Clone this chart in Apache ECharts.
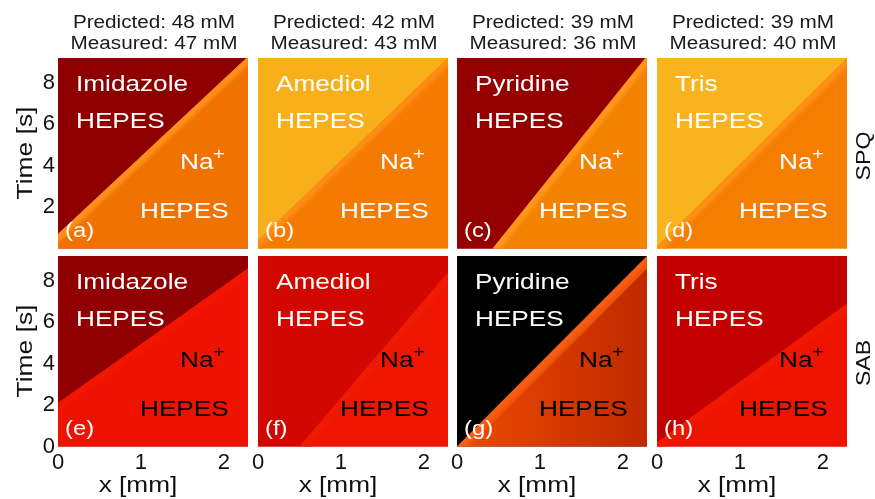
<!DOCTYPE html>
<html>
<head>
<meta charset="utf-8">
<script src="https://cdn.jsdelivr.net/npm/echarts@6/dist/echarts.min.js"></script>
<style>
  html, body { margin: 0; padding: 0; background: #ffffff; }
  #chart { width: 875px; height: 499px; }
</style>
</head>
<body>
<div id="chart"></div>
<script>
// Buffer pairs shown in each column and the concentrations quoted above them
const buffers = ['Imidazole', 'Amediol', 'Pyridine', 'Tris'];
const predictedMM = [48, 42, 39, 39];
const measuredMM = [47, 43, 36, 40];
const dyes = ['SPQ', 'SAB'];
const panelIds = ['(a)', '(b)', '(c)', '(d)', '(e)', '(f)', '(g)', '(h)'];

// Exchange front: time [s] at x = 0 and at the right edge of the channel, per panel
const frontX = [0, 2.29];
const frontStartT = [0.7, 0.4, -2.15, 0.1, 2.1, -2.35, 0.0, 0.2];
const frontEndT = [9.27, 9.2, 9.3, 9.2, 8.6, 8.4, 9.2, 6.9];

// Tick labels
const xTickLabels = [0, 1, 2];
const tTickLabels = [0, 2, 4, 6, 8];
const tMax = 9.2;

// Panel colours (hot colour map): region before the front, Na+ region after it,
// and the brighter band right behind the front
const upperColors = ['#8e0000', '#f7af1a', '#940000', '#f8b31f', '#910000', '#d20800', '#000000', '#c20000'];
const lowerColors = ['#f07200', '#f47a00', '#f28200', '#f57d00', '#f01200', '#ee1600', ['#ec4c00', '#c02800'], '#ef1400'];
const frontColors = ['#ff8e1c', '#ff8c14', '#ff961c', '#ff9016', '#f21600', '#f01a00', '#f65e14', '#f11800'];

const FONT = '"Liberation Sans", Arial, Helvetica, sans-serif';
const WIDE = 1.19; // horizontal stretch of the annotation lettering
const BAND = 9;    // width of the bright band behind the front, px
const colLeft = [58, 258, 457, 657];
const rowTop = [58, 256];
const panelW = 190, panelH = 190.5;

// Clip a polygon (pixel coordinates) to the plotting rectangle
function clipToRect(pts, r) {
  const cx = (a, b, x) => [x, a[1] + (x - a[0]) / (b[0] - a[0]) * (b[1] - a[1])];
  const cy = (a, b, y) => [a[0] + (y - a[1]) / (b[1] - a[1]) * (b[0] - a[0]), y];
  const edges = [
    [p => p[0] >= r.x, (a, b) => cx(a, b, r.x)],
    [p => p[0] <= r.x + r.width, (a, b) => cx(a, b, r.x + r.width)],
    [p => p[1] >= r.y, (a, b) => cy(a, b, r.y)],
    [p => p[1] <= r.y + r.height, (a, b) => cy(a, b, r.y + r.height)]
  ];
  let out = pts;
  for (const [inside, cut] of edges) {
    const src = out;
    out = [];
    for (let k = 0; k < src.length; k++) {
      const cur = src[k], prev = src[(k + src.length - 1) % src.length];
      if (inside(cur)) {
        if (!inside(prev)) out.push(cut(prev, cur));
        out.push(cur);
      } else if (inside(prev)) {
        out.push(cut(prev, cur));
      }
    }
    if (!out.length) break;
  }
  return out;
}

function fill(color, r) {
  if (Array.isArray(color)) {
    return { type: 'linear', x: r.x, y: 0, x2: r.x + r.width, y2: 0, global: true,
      colorStops: [{ offset: 0, color: color[0] }, { offset: 1, color: color[1] }] };
  }
  return color;
}

function renderPanel(params, api) {
  const i = params.seriesIndex;
  const r = params.coordSys;
  const p0 = api.coord([api.value(0), api.value(1)]);
  const p1 = api.coord([api.value(2), api.value(3)]);
  const big = 2000;
  const len = Math.hypot(p1[0] - p0[0], p1[1] - p0[1]);
  const d = [(p1[0] - p0[0]) / len, (p1[1] - p0[1]) / len];
  const n = [-d[1], d[0]]; // points into the Na+ region
  const a = [p0[0] - d[0] * big, p0[1] - d[1] * big];
  const b = [p1[0] + d[0] * big, p1[1] + d[1] * big];
  const shift = (p, s) => [p[0] + n[0] * s, p[1] + n[1] * s];

  const upper = clipToRect([a, b, shift(b, -big), shift(a, -big)], r);
  const lower = clipToRect([a, b, shift(b, big), shift(a, big)], r);
  const band = clipToRect([a, b, shift(b, BAND), shift(a, BAND)], r);
  const m = [(p0[0] + p1[0]) / 2, (p0[1] + p1[1]) / 2];
  const mb = shift(m, BAND);
  const base = Array.isArray(lowerColors[i]) ? lowerColors[i][0] : lowerColors[i];

  const poly = (pts, style) => ({ type: 'polygon', shape: { points: pts }, style: style, silent: true });
  const children = [];
  if (upper.length) children.push(poly(upper, { fill: upperColors[i] }));
  if (lower.length) children.push(poly(lower, { fill: fill(lowerColors[i], r) }));
  if (band.length) children.push(poly(band, {
    fill: { type: 'linear', x: m[0], y: m[1], x2: mb[0], y2: mb[1], global: true,
      colorStops: [{ offset: 0, color: frontColors[i] }, { offset: 0.4, color: frontColors[i] },
                   { offset: 1, color: base }] }
  }));
  return { type: 'group', children: children };
}

const chart = echarts.init(document.getElementById('chart'), null, { renderer: 'canvas' });

const grids = [], xAxes = [], yAxes = [], series = [], graphics = [];

const txt = (x, y, s, size, color, align, extra) => Object.assign({
  type: 'text', x: x, y: y, z: 50, silent: true, scaleX: WIDE,
  style: { text: s, fontSize: size, fontFamily: FONT, fill: color, align: align || 'left', verticalAlign: 'middle' }
}, extra || {});

for (let i = 0; i < 8; i++) {
  const r = Math.floor(i / 4), c = i % 4;
  const left = colLeft[c], top = rowTop[r];
  grids.push({
    left: left, top: top, width: panelW, height: panelH,
    show: true, backgroundColor: upperColors[i], borderWidth: 0, containLabel: false
  });
  xAxes.push({
    gridIndex: i, type: 'value', min: frontX[0], max: frontX[1], interval: 1,
    axisLine: { show: false }, axisTick: { show: false }, splitLine: { show: false },
    axisLabel: {
      show: r === 1, fontSize: 22, color: '#111', margin: 5, fontFamily: FONT,
      showMaxLabel: false,
      formatter: v => (xTickLabels.indexOf(v) >= 0 ? String(v) : '')
    }
  });
  yAxes.push({
    gridIndex: i, type: 'value', min: 0, max: tMax, interval: 2,
    axisLine: { show: false }, axisTick: { show: false }, splitLine: { show: false },
    axisLabel: {
      show: c === 0, fontSize: 22, color: '#111', margin: 3, fontFamily: FONT,
      showMaxLabel: false, showMinLabel: r === 1,
      formatter: v => (tTickLabels.indexOf(v) >= 0 && !(r === 0 && v === 0) ? String(v) : '')
    }
  });
  series.push({
    type: 'custom', xAxisIndex: i, yAxisIndex: i, silent: true, z: 2,
    encode: { x: [0, 2], y: [1, 3] },
    data: [[frontX[0], frontStartT[i], frontX[1], frontEndT[i]]],
    renderItem: renderPanel,
    animation: false
  });

  // In-panel annotations
  const lightTxt = '#ffffff';
  const lowerTxt = r === 0 ? '#ffffff' : '#000000';
  graphics.push(txt(left + 18, top + 27, buffers[c], 22, lightTxt));
  graphics.push(txt(left + 18, top + 64, 'HEPES', 22, lightTxt));
  graphics.push(txt(left + 122, top + 105, 'Na', 22, lowerTxt));
  graphics.push(txt(left + 161, top + 96, '+', 17, lowerTxt, 'center'));
  graphics.push(txt(left + 82, top + 154, 'HEPES', 22, lowerTxt));
  graphics.push(txt(left + 7, top + 173, panelIds[i], 20, lightTxt));

  if (r === 0) {
    graphics.push(txt(left + 96, top - 35, 'Predicted: ' + predictedMM[c] + ' mM', 18, '#1a1a1a', 'center', { scaleX: 1.15 }));
    graphics.push(txt(left + 96, top - 14, 'Measured: ' + measuredMM[c] + ' mM', 18, '#1a1a1a', 'center', { scaleX: 1.15 }));
  } else {
    graphics.push(txt(left + 80, top + 230, 'x [mm]', 22, '#111', 'center'));
  }
}

// Row labels: time axis title on the left, dye name on the right
const rowCenter = [153, 351];
const dyeCenter = [156, 363];
for (let r = 0; r < 2; r++) {
  graphics.push(txt(26, rowCenter[r], 'Time [s]', 22, '#111', 'center', { rotation: Math.PI / 2, scaleX: 1.2 }));
  graphics.push(txt(864, dyeCenter[r], dyes[r], 21, '#111', 'center', { rotation: Math.PI / 2, scaleX: 1.1 }));
}

chart.setOption({
  backgroundColor: '#ffffff',
  animation: false,
  grid: grids,
  xAxis: xAxes,
  yAxis: yAxes,
  series: series,
  graphic: graphics
});
</script>
</body>
</html>
